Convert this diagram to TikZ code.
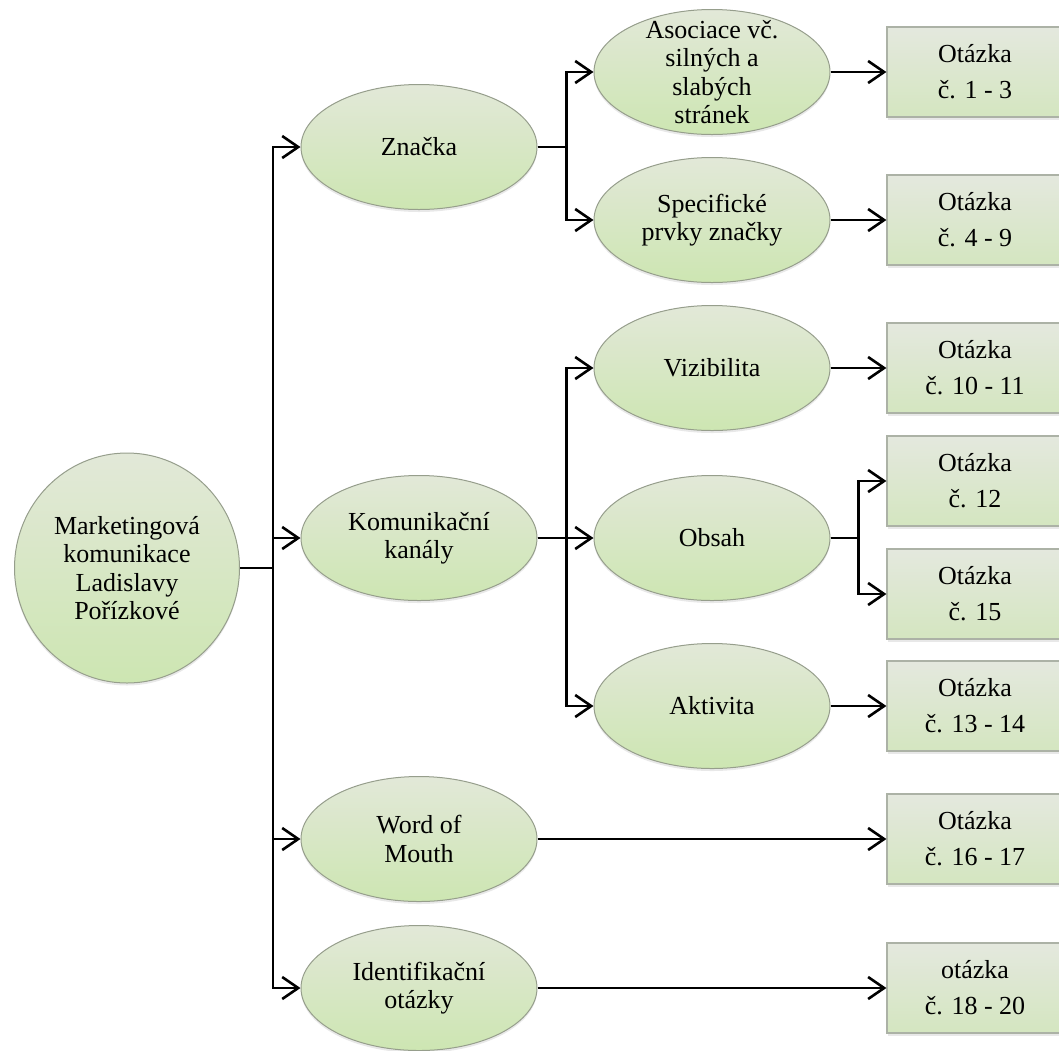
\documentclass[tikz,border=0pt]{standalone}
\usepackage{fontspec}
\setmainfont{Liberation Serif}
\usetikzlibrary{positioning,arrows.meta,shapes.geometric,shadows}

\definecolor{ovaltop}{RGB}{226,232,216}
\definecolor{ovalbottom}{RGB}{205,230,178}
\definecolor{ovalline}{RGB}{150,158,140}
\definecolor{boxtop}{RGB}{228,232,222}
\definecolor{boxbottom}{RGB}{212,230,192}
\definecolor{boxline}{RGB}{172,178,166}

\begin{document}
\begin{tikzpicture}[x=1pt,y=-1pt,
		oval/.style={ellipse,draw=ovalline,line width=1pt,top color=ovaltop,bottom color=ovalbottom,
			minimum width=236pt,minimum height=125pt,inner sep=0pt,align=center,
			font=\fontsize{26}{28.5}\selectfont,
			drop shadow={opacity=0.18,shadow xshift=0pt,shadow yshift=-2.5pt}},
		qbox/.style={rectangle,draw=boxline,line width=1.2pt,top color=boxtop,bottom color=boxbottom,
			minimum width=176pt,minimum height=90pt,inner sep=0pt,align=center,
			font=\fontsize{26}{36}\selectfont,
			drop shadow={opacity=0.18,shadow xshift=1pt,shadow yshift=-2.5pt}},
		arr/.style={line width=2.6pt,-{Straight Barb[length=16pt,width=22pt]}}
	]

	\useasboundingbox (0,0) rectangle (1059,1050);

	% Root
	\node[oval,minimum width=225pt,minimum height=230pt] (root) at (127,568)
		{Marketingová\\komunikace\\Ladislavy\\Pořízkové};

	% First level
	\node[oval] (znacka) at (419,147) {Značka};
	\node[oval] (kanaly) at (419,538) {Komunikační\\kanály};
	\node[oval] (wom) at (419,839) {Word of\\Mouth};
	\node[oval] (ident) at (419,988) {Identifikační\\otázky};

	% Second level
	\node[oval,inner ysep=-24pt] (asoc) at (712,72) {Asociace vč.\\silných a\\slabých\\stránek};
	\node[oval] (prvky) at (712,220) {Specifické\\prvky značky};
	\node[oval] (vizi) at (712,368) {Vizibilita};
	\node[oval] (obsah) at (712,538) {Obsah};
	\node[oval] (aktiv) at (712,706) {Aktivita};

	% Questions
	\node[qbox] (q1) at (975,72) {Otázka\\č. 1 - 3};
	\node[qbox] (q4) at (975,220) {Otázka\\č. 4 - 9};
	\node[qbox] (q10) at (975,368) {Otázka\\č. 10 - 11};
	\node[qbox] (q12) at (975,481) {Otázka\\č. 12};
	\node[qbox] (q15) at (975,594) {Otázka\\č. 15};
	\node[qbox] (q13) at (975,706) {Otázka\\č. 13 - 14};
	\node[qbox] (q16) at (975,839) {Otázka\\č. 16 - 17};
	\node[qbox] (q18) at (975,988) {otázka\\č. 18 - 20};

	% Trunk
	\foreach \n in {znacka,kanaly,wom,ident}
		\draw[arr] (root.east) -- ++(33,0) |- (\n.west);

	% Branches
	\foreach \n in {asoc,prvky}
		\draw[arr] (znacka.east) -- ++(29,0) |- (\n.west);
	\foreach \n in {vizi,obsah,aktiv}
		\draw[arr] (kanaly.east) -- ++(29,0) |- (\n.west);
	\foreach \n in {q12,q15}
		\draw[arr] (obsah.east) -- ++(28,0) |- (\n.west);

	% Straight links to the questions
	\draw[arr] (asoc.east) -- (q1.west);
	\draw[arr] (prvky.east) -- (q4.west);
	\draw[arr] (vizi.east) -- (q10.west);
	\draw[arr] (aktiv.east) -- (q13.west);
	\draw[arr] (wom.east) -- (q16.west);
	\draw[arr] (ident.east) -- (q18.west);

\end{tikzpicture}
\end{document}
